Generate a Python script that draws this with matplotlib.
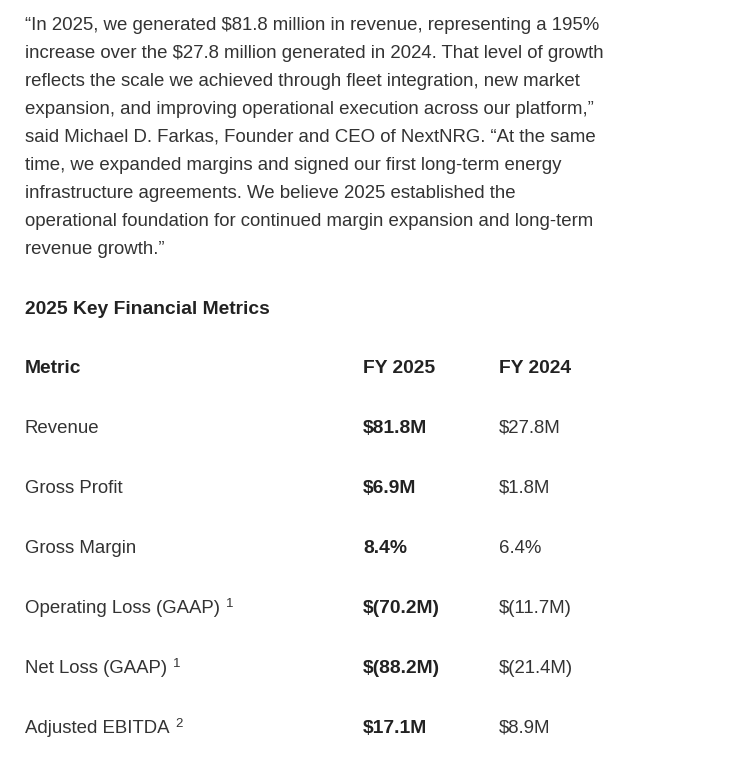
import matplotlib
matplotlib.use("Agg")
import matplotlib.pyplot as plt

# ---- content ----
quote_lines = [
    "\u201cIn 2025, we generated $81.8 million in revenue, representing a 195%",
    "increase over the $27.8 million generated in 2024. That level of growth",
    "reflects the scale we achieved through fleet integration, new market",
    "expansion, and improving operational execution across our platform,\u201d",
    "said Michael D. Farkas, Founder and CEO of NextNRG. \u201cAt the same",
    "time, we expanded margins and signed our first long-term energy",
    "infrastructure agreements. We believe 2025 established the",
    "operational foundation for continued margin expansion and long-term",
    "revenue growth.\u201d",
]
section_title = "2025 Key Financial Metrics"
columns = ["Metric", "FY 2025", "FY 2024"]
metrics = ["Revenue", "Gross Profit", "Gross Margin", "Operating Loss (GAAP)",
           "Net Loss (GAAP)", "Adjusted EBITDA"]
footnotes = ["", "", "", "1", "1", "2"]
fy2025 = ["$81.8M", "$6.9M", "8.4%", "$(70.2M)", "$(88.2M)", "$17.1M"]
fy2024 = ["$27.8M", "$1.8M", "6.4%", "$(11.7M)", "$(21.4M)", "$8.9M"]

W, H, DPI = 743, 758, 100
fig = plt.figure(figsize=(W / DPI, H / DPI), dpi=DPI, facecolor="white")
ax = fig.add_axes([0, 0, 1, 1])
ax.set_xlim(0, W)
ax.set_ylim(H, 0)
ax.axis("off")

FONT = ["Liberation Sans", "DejaVu Sans"]
REG = "#333333"
BOLD = "#222222"
FS = 13.4
FSB = 13.9

x0 = 25
for i, line in enumerate(quote_lines):
    ax.text(x0, 30 + 28 * i, line, family=FONT, fontsize=FS, color=REG,
            va="baseline", ha="left")

ax.text(x0, 314, section_title, family=FONT, fontsize=FSB, color=BOLD,
        weight="bold", va="baseline", ha="left")

col_x = [x0, 363, 499]
hdr_y = 373
for cx, c in zip(col_x, columns):
    ax.text(cx, hdr_y, c, family=FONT, fontsize=FSB, color=BOLD,
            weight="bold", va="baseline", ha="left")

fig.canvas.draw()
renderer = fig.canvas.get_renderer()
for i, (m, fn, a, b) in enumerate(zip(metrics, footnotes, fy2025, fy2024)):
    y = 433 + 60 * i
    t = ax.text(col_x[0], y, m, family=FONT, fontsize=FS, color=REG,
                va="baseline", ha="left")
    if fn:
        bb = t.get_window_extent(renderer=renderer)
        ax.text(bb.x1 + 6, y - 6, fn, family=FONT, fontsize=9.5, color=REG,
                va="baseline", ha="left")
    ax.text(col_x[1], y, a, family=FONT, fontsize=FSB, color=BOLD,
            weight="bold", va="baseline", ha="left")
    ax.text(col_x[2], y, b, family=FONT, fontsize=FS, color=REG,
            va="baseline", ha="left")

fig.savefig("out.png", dpi=DPI, facecolor="white")
